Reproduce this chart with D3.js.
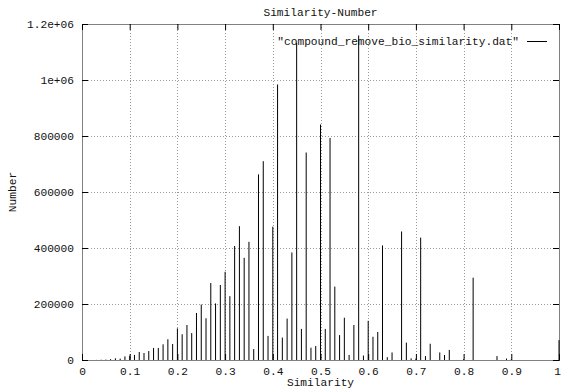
<!DOCTYPE html>
<html>
<head>
<meta charset="utf-8">
<script src="https://cdn.jsdelivr.net/npm/d3@7"></script>
<style>
  html, body { margin: 0; padding: 0; background: #fff; }
  svg { display: block; }
  text { font-family: "Liberation Mono", "DejaVu Sans Mono", monospace; font-size: 11.2px; fill: #111; }
</style>
</head>
<body>
<svg id="chart" width="561" height="392"></svg>
<script>
// ---- data ----
const similarity = [
  0.00,0.01,0.02,0.03,0.04,0.05,0.06,0.07,0.08,0.09,
  0.10,0.11,0.12,0.13,0.14,0.15,0.16,0.17,0.18,0.19,
  0.20,0.21,0.22,0.23,0.24,0.25,0.26,0.27,0.28,0.29,
  0.30,0.31,0.32,0.33,0.34,0.35,0.36,0.37,0.38,0.39,
  0.40,0.41,0.42,0.43,0.44,0.45,0.46,0.47,0.48,0.49,
  0.50,0.51,0.52,0.53,0.54,0.55,0.56,0.57,0.58,0.59,
  0.60,0.61,0.62,0.63,0.64,0.65,0.66,0.67,0.68,0.69,
  0.70,0.71,0.72,0.73,0.74,0.75,0.76,0.77,0.78,0.79,
  0.80,0.81,0.82,0.83,0.84,0.85,0.86,0.87,0.88,0.89,
  0.90,0.91,0.92,0.93,0.94,0.95,0.96,0.97,0.98,0.99,
  1.00
];
const number = [
  0,0,0,500,1000,1500,3000,6000,5000,13000,
  15000,18000,28500,25000,32000,43000,43000,56000,74000,57000,
  113000,92000,125000,96000,168000,198000,149000,275000,202000,268000,
  315000,228000,407000,478000,365000,422000,39000,663000,710000,86000,
  476000,984000,80000,148000,384000,1133000,111000,741000,44000,50000,
  841000,111000,793000,262000,89000,151000,18000,125000,1159000,16000,
  140000,83000,100000,409000,10000,27000,0,459000,62000,6000,
  5000,437000,14000,58000,0,27000,18000,36000,0,0,
  3000,0,294000,0,0,0,0,14000,0,5000,
  3000,0,0,0,0,0,0,0,0,0,
  71000
];
const xTickValues = [0,0.1,0.2,0.3,0.4,0.5,0.6,0.7,0.8,0.9,1];
const xTickLabels = ["0","0.1","0.2","0.3","0.4","0.5","0.6","0.7","0.8","0.9","1"];
const yTickValues = [0,200000,400000,600000,800000,1000000,1200000];
const yTickLabels = ["0","200000","400000","600000","800000","1e+06","1.2e+06"];
const titleText = "Similarity-Number";
const xLabelText = "Similarity";
const yLabelText = "Number";
const seriesName = "\"compound_remove_bio_similarity.dat\"";

// ---- layout ----
const svg = d3.select("#chart");
const L = 82, R = 559, T = 24, B = 360;
const x = d3.scaleLinear().domain([0, 1]).range([L, R]);
const y = d3.scaleLinear().domain([0, 1200000]).range([B, T]);

// grid
const grid = svg.append("g").attr("stroke", "#999").attr("stroke-width", 1).attr("stroke-dasharray", "1,2");
xTickValues.slice(1, -1).forEach(v => {
  grid.append("line").attr("x1", Math.round(x(v)) + 0.5).attr("x2", Math.round(x(v)) + 0.5)
    .attr("y1", T).attr("y2", B);
});
yTickValues.slice(1, -1).forEach(v => {
  grid.append("line").attr("x1", L).attr("x2", R)
    .attr("y1", Math.round(y(v)) + 0.5).attr("y2", Math.round(y(v)) + 0.5);
});

// impulses
svg.append("g").selectAll("line").data(similarity.map((s, i) => [s, number[i]]))
  .join("line")
  .attr("x1", d => x(d[0])).attr("x2", d => x(d[0]))
  .attr("y1", y(0)).attr("y2", d => y(d[1]))
  .attr("stroke", "#000").attr("stroke-width", 1);

// axes
const fmtX = (d, i) => xTickLabels[i];
const fmtY = (d, i) => yTickLabels[i];
function styleAxis(g) {
  g.select(".domain").attr("stroke", "#000").attr("stroke-dasharray", "1,1");
  g.selectAll(".tick line").attr("stroke", "#000");
  g.selectAll("text").attr("font-family", "Liberation Mono").attr("font-size", 11.2).attr("fill", "#111");
}
const xAxisG = svg.append("g").attr("transform", `translate(0,${B})`)
  .call(d3.axisBottom(x).tickValues(xTickValues).tickFormat(fmtX).tickSize(-6).tickSizeOuter(0).tickPadding(7))
  .call(styleAxis);
// keep the last label inside the picture, as in the reference
xAxisG.selectAll(".tick text").filter((d, i) => i === xTickValues.length - 1).attr("dx", -2);
svg.append("g").attr("transform", `translate(0,${T})`)
  .call(d3.axisTop(x).tickValues(xTickValues).tickFormat("").tickSize(-6).tickSizeOuter(0))
  .call(styleAxis);
svg.append("g").attr("transform", `translate(${L},0)`)
  .call(d3.axisLeft(y).tickValues(yTickValues).tickFormat(fmtY).tickSize(-6).tickSizeOuter(0).tickPadding(8))
  .call(styleAxis);
svg.append("g").attr("transform", `translate(${R},0)`)
  .call(d3.axisRight(y).tickValues(yTickValues).tickFormat("").tickSize(-6).tickSizeOuter(0))
  .call(styleAxis);

// titles
svg.append("text").attr("x", (L + R) / 2).attr("y", 16).attr("text-anchor", "middle").text(titleText);
svg.append("text").attr("x", (L + R) / 2).attr("y", 386).attr("text-anchor", "middle").text(xLabelText);
svg.append("text").attr("transform", `translate(16,${(T + B) / 2}) rotate(-90)`).attr("text-anchor", "middle").text(yLabelText);

// legend
svg.append("text").attr("x", 519).attr("y", 45).attr("text-anchor", "end").text(seriesName);
svg.append("line").attr("x1", 527).attr("x2", 547).attr("y1", 41.5).attr("y2", 41.5)
  .attr("stroke", "#000").attr("stroke-width", 1);
</script>
</body>
</html>
